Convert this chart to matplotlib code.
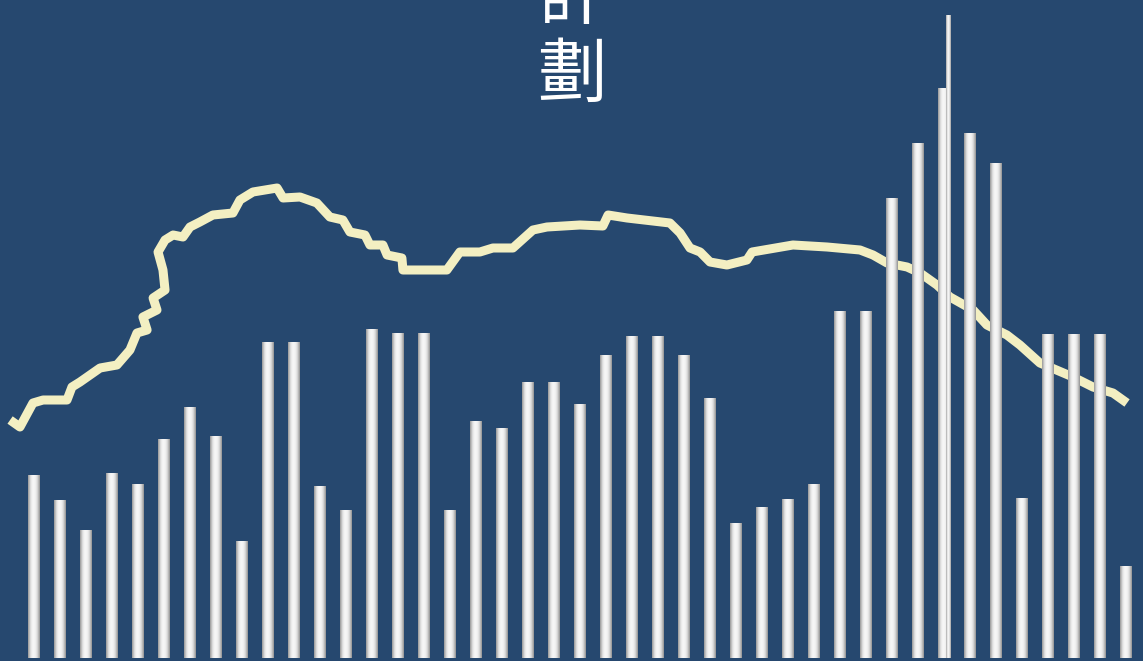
import matplotlib
matplotlib.use("Agg")
import matplotlib.pyplot as plt
import numpy as np

# bar values (one per period)
bar_vals = [183, 158, 128, 185, 174, 219, 251, 222, 117, 316, 316, 172, 148,
            329, 325, 325, 148, 237, 230, 276, 276, 254, 303, 322, 322, 303,
            260, 135, 151, 159, 174, 347, 347, 460, 515, 570, 525, 495, 160,
            324, 324, 324, 92]
spike_pos = 35.15
spike_val = 643

# trend line (period, value)
line_x = [-0.92, -0.54, -0.04, 0.35, 1.27, 1.46, 1.77, 2.54, 3.19, 3.69, 3.96,
          4.35, 4.19, 4.73, 4.58, 5.04, 4.96, 4.77, 5.04, 5.35, 5.73, 6.0,
          6.38, 6.88, 7.65, 7.92, 8.42, 9.35, 9.58, 10.23, 10.88, 11.38, 11.88,
          12.15, 12.73, 12.92, 13.42, 13.58, 14.15, 14.19, 15.88, 16.38, 17.15,
          17.65, 18.42, 19.19, 19.73, 21.0, 21.88, 22.08, 22.81, 24.46, 24.85,
          25.23, 25.62, 26.0, 26.65, 27.42, 27.62, 29.19, 30.5, 31.77, 32.27,
          32.81, 33.58, 34.08, 34.73, 35.23, 36.12, 36.65, 37.42, 37.92, 38.69,
          39.96, 40.73, 41.5, 42.04]
line_y = [238, 231, 255, 258, 258, 271, 276, 290, 293, 308, 325, 328, 341, 348,
          360, 368, 388, 406, 418, 423, 421, 431, 436, 443, 445, 458, 466, 470,
          460, 461, 455, 441, 438, 426, 423, 413, 413, 403, 400, 388, 388, 406,
          406, 410, 410, 428, 431, 433, 432, 443, 440, 435, 425, 410, 406, 396,
          393, 398, 406, 413, 411, 408, 403, 395, 391, 385, 373, 361, 348, 333,
          323, 313, 295, 281, 271, 265, 255]

title_chars = ["計", "劃"]

bg = "#26486f"
fig = plt.figure(figsize=(11.43, 6.61), dpi=100, facecolor=bg)
ax = fig.add_axes([0, 0, 1, 1], facecolor=bg)
ax.axis("off")

ax.plot(line_x, line_y, color="#f3efc2", lw=6.5, solid_joinstyle="round",
        solid_capstyle="butt", zorder=2)

# cylinder shading for bars
grad = np.array([[0.62, 0.8, 0.9, 0.95, 0.97, 0.96, 0.93, 0.87, 0.78, 0.6]])
w = 0.44
for i, v in enumerate(bar_vals):
    ax.imshow(grad, cmap="gray", vmin=0, vmax=1, aspect="auto",
              extent=[i - w / 2, i + w / 2, 0, v], zorder=3,
              interpolation="bicubic")
ax.imshow(grad, cmap="gray", vmin=0, vmax=1, aspect="auto",
          extent=[spike_pos - 0.08, spike_pos + 0.08, 0, spike_val], zorder=3,
          interpolation="bicubic")
ax.set_xlim(-1.3077, 42.654)
ax.set_ylim(-3, 658)

ax.text(0.5, 1.003, title_chars[0], transform=ax.transAxes, ha="center",
        va="center", color="white", fontsize=50,
        family=["Noto Sans CJK TC", "DejaVu Sans"], zorder=5)
ax.text(0.5, 0.885, title_chars[1], transform=ax.transAxes, ha="center",
        va="center", color="white", fontsize=50,
        family=["Noto Sans CJK TC", "DejaVu Sans"], zorder=5)

fig.savefig("out.png", dpi=100, facecolor=bg)
